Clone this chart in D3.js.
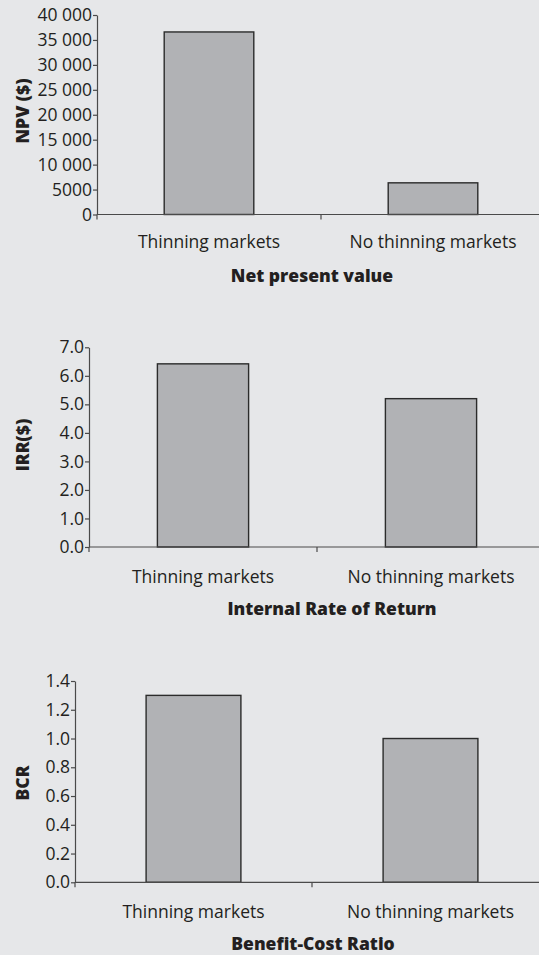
<!DOCTYPE html>
<html>
<head>
<meta charset="utf-8">
<script src="https://cdn.jsdelivr.net/npm/d3@7"></script>
<style>
  html, body { margin: 0; padding: 0; background: #e6e7e9; }
  svg { display: block; }
  text { font-family: "Open Sans", "DejaVu Sans", sans-serif; fill: #231f20; }
</style>
</head>
<body>
<svg id="chart" width="539" height="955"></svg>
<script>
// ---- data ----
const categories = ["Thinning markets", "No thinning markets"];
const npvValues = [36600, 6350];
const irrValues = [6.42, 5.2];
const bcrValues = [1.30, 1.00];
const npvTicks = [0, 5000, 10000, 15000, 20000, 25000, 30000, 35000, 40000];
const irrTicks = [0, 1, 2, 3, 4, 5, 6, 7];
const bcrTicks = [0, 0.2, 0.4, 0.6, 0.8, 1.0, 1.2, 1.4];
const titles = ["Net present value", "Internal Rate of Return", "Benefit-Cost Ratio"];
const yLabels = ["NPV ($)", "IRR($)", "BCR"];

const npvFmt = v => v === 0 ? "0" : (v < 10000 ? String(v) : String(Math.floor(v / 1000)) + " 000");

const FS = 17.5;

const panels = [
  { values: npvValues, ticks: npvTicks, fmt: npvFmt, max: 40000,
    axisX: 97, top: 15, bottom: 214.5, right: 545, catY: 248, titleX: 312, titleY: 282, ylabX: 29, ylabY: 111,
    title: titles[0], ylab: yLabels[0] },
  { values: irrValues, ticks: irrTicks, fmt: d3.format(".1f"), max: 7,
    axisX: 89, top: 347.3, bottom: 547, right: 545, catY: 583, titleX: 332, titleY: 615, ylabX: 29, ylabY: 445,
    title: titles[1], ylab: yLabels[1] },
  { values: bcrValues, ticks: bcrTicks, fmt: d3.format(".1f"), max: 1.4,
    axisX: 75, top: 681, bottom: 882.3, right: 549, catY: 918, titleX: 313, titleY: 950, ylabX: 29, ylabY: 783,
    title: titles[2], ylab: yLabels[2] }
];

const svg = d3.select("#chart");
const axisColor = "#4a4a4a";

panels.forEach(p => {
  const g = svg.append("g");
  const y = d3.scaleLinear().domain([0, p.max]).range([p.bottom, p.top]);
  const x = d3.scaleBand().domain(categories).range([p.axisX, p.right]).paddingInner(0).paddingOuter(0);

  // bars
  const bw = x.bandwidth() * 0.4;
  g.selectAll("rect.bar").data(p.values).join("rect")
    .attr("class", "bar")
    .attr("x", (d, i) => x(categories[i]) + (x.bandwidth() - bw) / 2)
    .attr("y", d => y(d))
    .attr("width", bw)
    .attr("height", d => y(0) - y(d))
    .attr("fill", "#b1b2b5")
    .attr("stroke", "#2b2b2b")
    .attr("stroke-width", 1.4);

  // y axis
  const yAxis = d3.axisLeft(y).tickValues(p.ticks).tickFormat(p.fmt).tickSize(4).tickSizeOuter(0).tickPadding(1);
  const ya = g.append("g").attr("transform", `translate(${p.axisX},0)`).call(yAxis);
  ya.select(".domain").attr("stroke", axisColor).attr("stroke-width", 1.2);
  ya.selectAll(".tick line").attr("stroke", axisColor).attr("stroke-width", 1.2);
  ya.selectAll(".tick text").attr("font-size", FS).attr("fill", "#231f20")
    .style("font-family", '"Open Sans", sans-serif');

  // x axis (category axis with ticks at band boundaries)
  const xa = g.append("g");
  xa.append("line")
    .attr("x1", x.range()[0]).attr("x2", x.range()[1])
    .attr("y1", y(0)).attr("y2", y(0))
    .attr("stroke", axisColor).attr("stroke-width", 1.2);
  const bounds = [x(categories[0]), x(categories[1]), x.range()[1]];
  xa.selectAll("line.xt").data(bounds).join("line")
    .attr("class", "xt")
    .attr("x1", d => d).attr("x2", d => d)
    .attr("y1", y(0)).attr("y2", y(0) + 5)
    .attr("stroke", axisColor).attr("stroke-width", 1.2);
  xa.selectAll("text.cat").data(categories).join("text")
    .attr("class", "cat")
    .attr("x", d => x(d) + x.bandwidth() / 2)
    .attr("y", p.catY)
    .attr("text-anchor", "middle")
    .attr("font-size", FS)
    .text(d => d);

  // title
  g.append("text")
    .attr("x", p.titleX).attr("y", p.titleY)
    .attr("text-anchor", "middle")
    .attr("font-size", FS).attr("font-weight", 800)
    .text(p.title);

  // y label
  g.append("text")
    .attr("transform", `translate(${p.ylabX},${p.ylabY}) rotate(-90)`)
    .attr("text-anchor", "middle")
    .attr("font-size", FS).attr("font-weight", 800)
    .text(p.ylab);
});
</script>
</body>
</html>
